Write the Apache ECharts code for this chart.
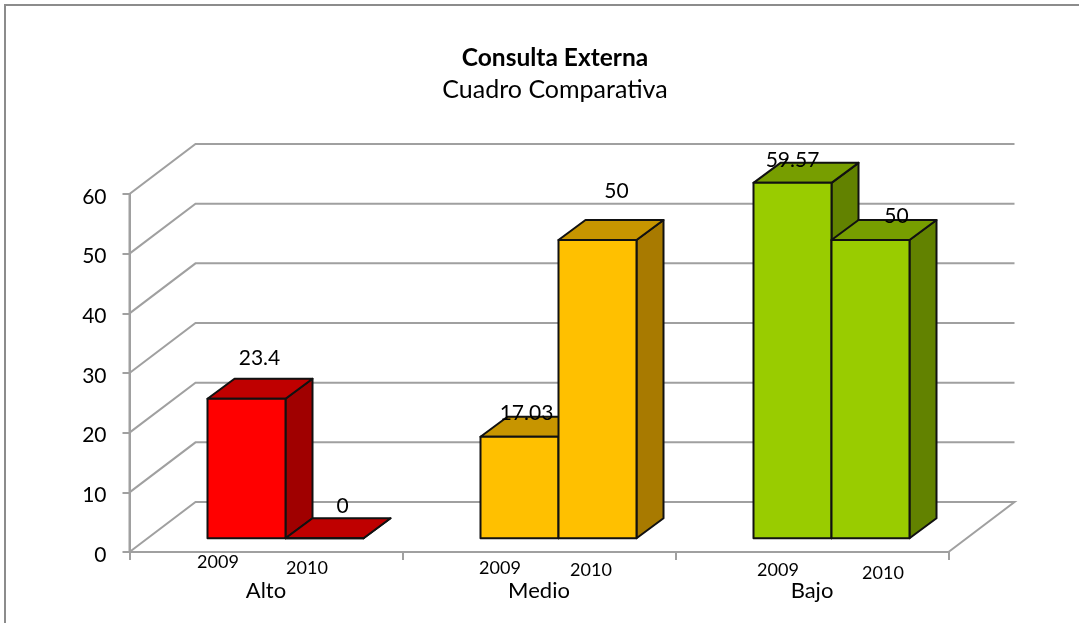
<!DOCTYPE html>
<html>
<head>
<meta charset="utf-8">
<title>Consulta Externa</title>
<script src="https://cdn.jsdelivr.net/npm/echarts@6/dist/echarts.min.js"></script>
<style>
  html, body { margin: 0; padding: 0; background: #fff; }
  #main { width: 1079px; height: 623px; }
</style>
</head>
<body>
<div id="main"></div>
<script>
const categories = ['Alto', 'Medio', 'Bajo'];
const yearNames = ['2009', '2010'];
const values2009 = [23.4, 17.03, 59.57];
const values2010 = [0, 50, 50];
const yTicks = [0, 10, 20, 30, 40, 50, 60];

// colores por categoria: frente, tapa, lado
const faceColors = ['#ff0000', '#ffc000', '#99cc00'];
const topColors = ['#bf0000', '#c79500', '#779e00'];
const sideColors = ['#a00000', '#a87a00', '#628200'];

const FONT = 'Lato, "Open Sans", sans-serif';
const GRID_COLOR = '#a0a0a0';
const WALL_DX = 66;
const WALL_DY = -50;
const BAR_SHIFT_X = 19.5;
const BAR_SHIFT_Y = -13.7;
const BAR_DX = 27;
const BAR_DY = -20;
const BAR_WIDTH = 78;

// etiquetas movidas a mano en el original: desplazamiento desde el borde frontal de la barra
const valueLabelOffset = [
  [[13, -40], [18, -32]],
  [[7, -23], [19, -49]],
  [[0, -23], [26, -24]]
];
const yearLabelPos = [
  [[218, 562], [307, 568]],
  [[500, 568], [591, 570]],
  [[778, 570], [883, 573]]
];

function poly(points, fill, z2) {
  return {
    type: 'polygon',
    z2: z2,
    shape: { points: points },
    style: { fill: fill, stroke: '#111', lineWidth: 2, lineJoin: 'round' }
  };
}

function renderBar(yearIndex) {
  return function (params, api) {
    const cat = api.value(0);
    const val = api.value(1);
    const base = api.coord([cat, 0]);
    const top = api.coord([cat, val]);
    const x0 = base[0] + BAR_SHIFT_X + (yearIndex - 1) * BAR_WIDTH;
    const x1 = x0 + BAR_WIDTH;
    const y0 = base[1] + BAR_SHIFT_Y;
    const y1 = top[1] + BAR_SHIFT_Y;
    const off = valueLabelOffset[cat][yearIndex];
    const yearPos = yearLabelPos[cat][yearIndex];
    const z = 10 + yearIndex;
    return {
      type: 'group',
      children: [
        poly([[x1, y0], [x1 + BAR_DX, y0 + BAR_DY], [x1 + BAR_DX, y1 + BAR_DY], [x1, y1]], sideColors[cat], z),
        poly([[x0, y1], [x0 + BAR_DX, y1 + BAR_DY], [x1 + BAR_DX, y1 + BAR_DY], [x1, y1]], topColors[cat], z),
        poly([[x0, y0], [x1, y0], [x1, y1], [x0, y1]], faceColors[cat], z),
        {
          type: 'text',
          z2: 50,
          style: {
            x: (x0 + x1) / 2 + off[0],
            y: y1 + off[1],
            text: String(val),
            font: '21px ' + FONT,
            fill: '#000',
            align: 'center',
            verticalAlign: 'middle'
          }
        },
        {
          type: 'text',
          z2: 50,
          style: {
            x: yearPos[0],
            y: yearPos[1],
            text: yearNames[yearIndex],
            font: '18px ' + FONT,
            fill: '#000',
            align: 'center',
            verticalAlign: 'middle'
          }
        }
      ]
    };
  };
}

function renderWall(params, api) {
  const val = api.value(0);
  const a = api.coord([0, val]);
  const size = api.size([1, 0]);
  const left = a[0] - size[0] / 2;
  const right = left + size[0] * categories.length;
  const y = a[1];
  const pts = [[left, y], [left + WALL_DX, y + WALL_DY], [right + WALL_DX, y + WALL_DY]];
  if (val === 0) pts.push([right, y]);
  // la linea vertical del eje sale de la marca superior
  if (val === yTicks[yTicks.length - 1]) pts.unshift([left, api.coord([0, 0])[1]]);
  return {
    type: 'polyline',
    shape: { points: pts },
    style: { fill: 'none', stroke: GRID_COLOR, lineWidth: 2 }
  };
}

const myChart = echarts.init(document.getElementById('main'), null, { renderer: 'canvas' });

myChart.setOption({
  animation: false,
  backgroundColor: '#fff',
  title: {
    left: 550,
    top: 38,
    textAlign: 'center',
    text: '{b|Consulta Externa}\n{n|Cuadro Comparativa}',
    textStyle: {
      fontWeight: 'normal',
      rich: {
        b: { fontFamily: FONT, fontSize: 24.5, fontWeight: 'bold', color: '#000', lineHeight: 31 },
        n: { fontFamily: FONT, fontSize: 25, fontWeight: 'normal', color: '#000', lineHeight: 31 }
      }
    }
  },
  graphic: [{
    type: 'polyline',
    silent: true,
    shape: { points: [[5, 640], [5, 5], [1090, 5]] },
    style: { fill: 'none', stroke: '#8c8c8c', lineWidth: 2 }
  }],
  grid: { left: 129.5, right: 130.5, top: 194, bottom: 71 },
  xAxis: {
    type: 'category',
    data: categories,
    axisLine: { show: true, lineStyle: { color: GRID_COLOR, width: 2 } },
    axisTick: { show: true, length: 8, alignWithLabel: false, lineStyle: { color: GRID_COLOR, width: 2 } },
    axisLabel: { margin: 28, fontFamily: FONT, fontSize: 22, color: '#000' }
  },
  yAxis: {
    type: 'value',
    min: 0,
    max: 60,
    interval: 10,
    splitLine: { show: false },
    axisLine: { show: true, lineStyle: { color: GRID_COLOR, width: 2 } },
    axisTick: { show: true, length: 7, lineStyle: { color: GRID_COLOR, width: 2 } },
    axisLabel: {
      margin: 23,
      formatter: '{a|{value}}',
      rich: { a: { fontFamily: FONT, fontSize: 21, color: '#000', padding: [6, 0, 0, 0] } }
    }
  },
  series: [
    {
      type: 'custom',
      name: 'pared',
      silent: true,
      clip: false,
      z: 1,
      encode: { y: 0 },
      data: yTicks.map(function (t) { return [t]; }),
      renderItem: renderWall
    },
    {
      type: 'custom',
      name: yearNames[0],
      clip: false,
      encode: { x: 0, y: 1 },
      data: values2009.map(function (v, i) { return [i, v]; }),
      renderItem: renderBar(0)
    },
    {
      type: 'custom',
      name: yearNames[1],
      clip: false,
      encode: { x: 0, y: 1 },
      data: values2010.map(function (v, i) { return [i, v]; }),
      renderItem: renderBar(1)
    }
  ]
});
</script>
</body>
</html>
